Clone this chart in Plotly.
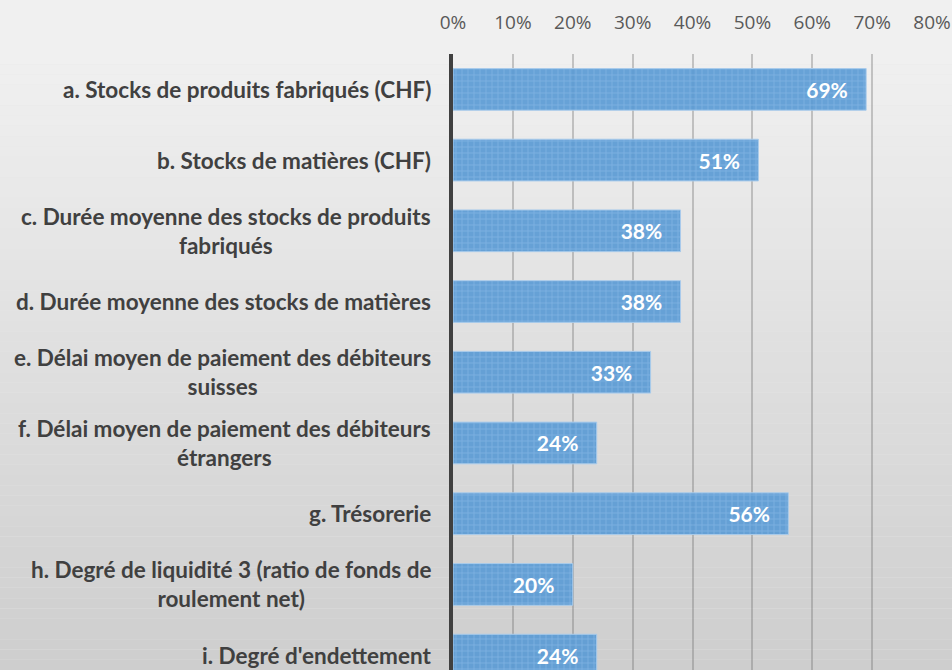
import plotly.graph_objects as go

categories = [
    "a. Stocks de produits fabriqués (CHF)",
    "b. Stocks de matières (CHF)",
    "c. Durée moyenne des stocks de produits<br>fabriqués",
    "d. Durée moyenne des stocks de matières",
    "e. Délai moyen de paiement des débiteurs<br>suisses",
    "f. Délai moyen de paiement des débiteurs<br>étrangers",
    "g. Trésorerie",
    "h. Degré de liquidité 3 (ratio de fonds de<br>roulement net)",
    "i. Degré d'endettement",
]
values = [0.69, 0.51, 0.38, 0.38, 0.33, 0.24, 0.56, 0.20, 0.24]
tick_vals = [0, 0.1, 0.2, 0.3, 0.4, 0.5, 0.6, 0.7, 0.8]
tick_text = ["0%", "10%", "20%", "30%", "40%", "50%", "60%", "70%", "80%"]

ypos = list(range(len(categories)))

fig = go.Figure()
fig.add_trace(go.Bar(
    x=values, y=ypos, orientation="h", width=0.59,
    marker=dict(
        color="rgba(91,155,213,0.92)",
        line=dict(color="#a9cbeb", width=1),
        pattern=dict(shape="+", fgcolor="#8fbde9", bgcolor="rgba(91,155,213,0.92)",
                     size=6, solidity=0.3),
    ),
    texttemplate="%{x:.0%}\u00a0\u00a0\u00a0",
    textposition="inside", insidetextanchor="end",
    textfont=dict(family="Lato", size=21, color="white", weight="bold"),
    hoverinfo="skip",
))

# background gradient strips
shapes = []
n = 60
top = (240, 240, 240)
bot = (206, 206, 206)
for i in range(n):
    t = i / (n - 1)
    c = tuple(round(top[k] + (bot[k] - top[k]) * t) for k in range(3))
    shapes.append(dict(type="rect", xref="paper", yref="paper", x0=-1, x1=2,
                       y0=1 - (i + 1) / n - 0.5 * (i == n - 1), y1=1 - i / n + 0.5 * (i == 0),
                       fillcolor="rgb(%d,%d,%d)" % c, line=dict(width=0), layer="below"))

annotations = []
for yi, cat in zip(ypos, categories):
    annotations.append(dict(x=0, xref="paper", y=yi, yref="y", text=cat, showarrow=False,
                            xanchor="right", align="center", xshift=-20,
                            font=dict(family="Lato", size=22.5, color="#404040", weight="bold")))

fig.update_layout(
    width=952, height=670,
    margin=dict(l=453, r=20, t=54, b=0),
    paper_bgcolor="#e6e6e6", plot_bgcolor="rgba(0,0,0,0)",
    shapes=shapes, annotations=annotations,
    showlegend=False, bargap=0.4,
    xaxis=dict(side="top", range=[0, 0.8], tickvals=tick_vals, ticktext=tick_text,
               showgrid=True, gridcolor="rgba(110,110,110,0.35)", gridwidth=2,
               zeroline=False, showline=False, ticks="", ticklabelstandoff=20,
               tickfont=dict(family="Open Sans", size=19, color="#595959"), fixedrange=True),
    yaxis=dict(range=[8.71 - 0.5, -0.5], showticklabels=False, showgrid=False, zeroline=False,
               showline=True, linecolor="#404040", linewidth=4, ticks="", fixedrange=True),
)

fig.write_html("out.html", config={"displayModeBar": False, "staticPlot": True},
               post_script="document.body.style.margin='0';document.body.style.overflow='hidden';")
